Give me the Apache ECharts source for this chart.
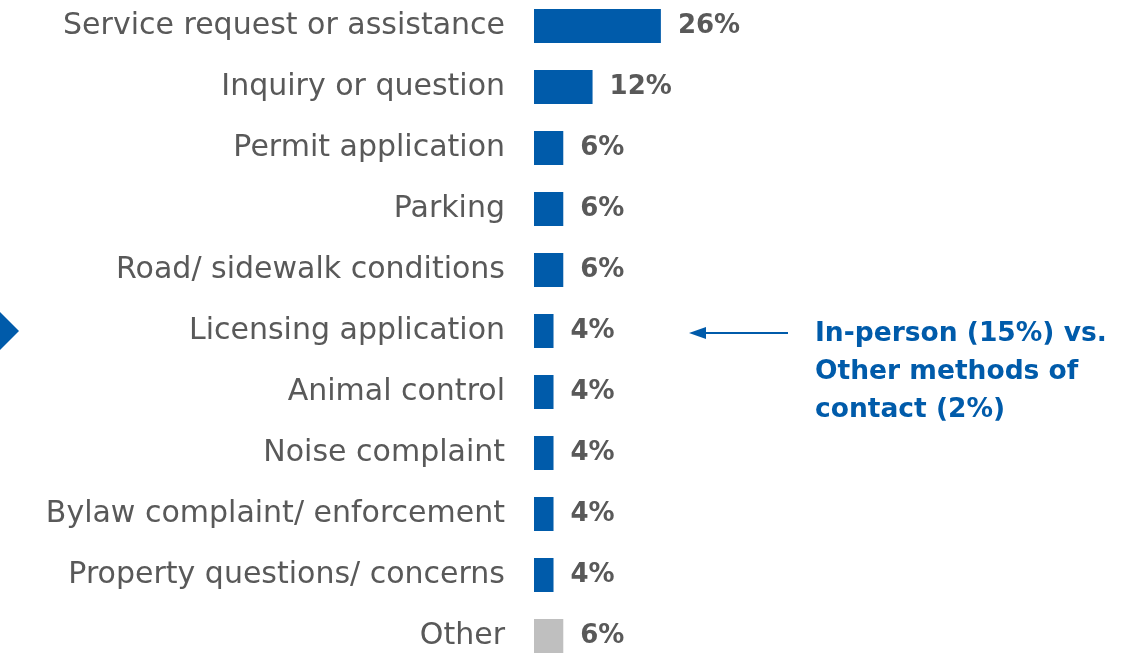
<!DOCTYPE html>
<html><head><meta charset="utf-8">
<script src="https://cdn.jsdelivr.net/npm/echarts@6/dist/echarts.min.js"></script>
<style>html,body{margin:0;padding:0;background:#fff}#c{width:1135px;height:653px}</style>
</head><body><div id="c"></div>
<script>
const categories = ['Service request or assistance','Inquiry or question','Permit application','Parking','Road/ sidewalk conditions','Licensing application','Animal control','Noise complaint','Bylaw complaint/ enforcement','Property questions/ concerns','Other'];
const values = [26,12,6,6,6,4,4,4,4,4,6];
const annotationLines = ['In-person (15%) vs.','Other methods of','contact (2%)'];

const BLUE = '#005BAA', GREY = '#BFBFBF', TEXT = '#595959';
const chart = echarts.init(document.getElementById('c'));
chart.setOption({
  animation: false,
  grid: {left: 534, top: -4.5, width: 146.4, height: 671, containLabel: false, outerBoundsMode: 'none'},
  xAxis: {type: 'value', min: 0, max: 30, show: false},
  yAxis: {type: 'category', data: categories, inverse: true,
    axisLine: {show: false}, axisTick: {show: false}, splitLine: {show: false},
    axisLabel: {margin: 29, color: TEXT, fontFamily: 'DejaVu Sans', fontSize: 30, padding: [0,0,9,0]}},
  series: [{
    type: 'bar', data: values, barWidth: 34,
    itemStyle: {color: p => p.name === 'Other' ? GREY : BLUE},
    label: {show: true, position: 'right', distance: 17, formatter: '{c}%',
      color: TEXT, fontFamily: 'DejaVu Sans', fontWeight: 'bold', fontSize: 26}
  }],
  graphic: [
    {type: 'polygon', shape: {points: [[-19,331],[0,312],[19,331],[0,350]]}, style: {fill: BLUE}},
    {type: 'line', shape: {x1: 788, y1: 333, x2: 700, y2: 333}, style: {stroke: BLUE, lineWidth: 2}},
    {type: 'polygon', shape: {points: [[689,333],[706,327],[706,339]]}, style: {fill: BLUE}},
    {type: 'text', left: 815, top: 315, style: {text: annotationLines.join('\n'), fill: BLUE,
      font: 'bold 26.5px "DejaVu Sans"', lineHeight: 38}}
  ]
});
</script></body></html>
